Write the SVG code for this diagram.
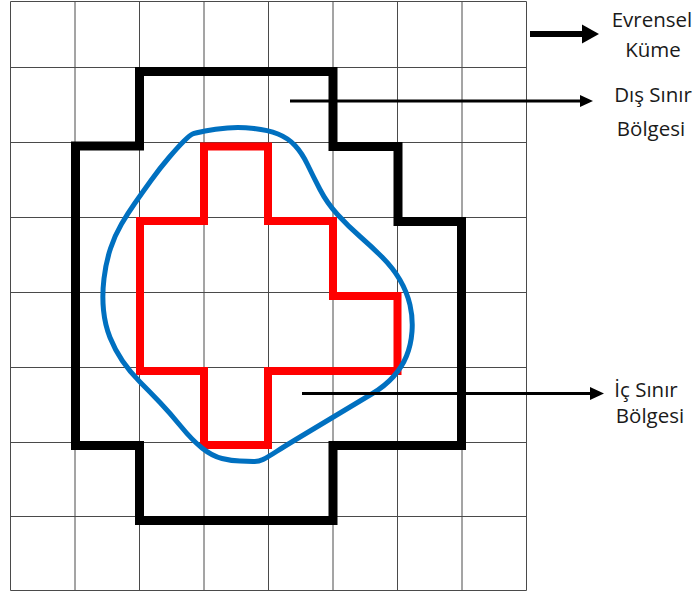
<svg xmlns="http://www.w3.org/2000/svg" width="697" height="597" viewBox="0 0 697 597">
<style>
.grid{stroke:#4a4a4a;stroke-width:1;fill:none}
.outer{fill:none;stroke:#000;stroke-width:9;stroke-linejoin:miter}
.inner{fill:none;stroke:#ff0000;stroke-width:8;stroke-linejoin:miter}
.blob{fill:none;stroke:#0070c0;stroke-width:5;stroke-linejoin:round}
.lbl{font-family:"Open Sans","Noto Sans",sans-serif;font-size:20.5px;fill:#1a1a1a;text-anchor:middle}
.ar{stroke:#000;fill:none}
.hd{fill:#000}
</style>
<rect width="697" height="597" fill="#fff"/>
<g id="grid" class="grid">
<path d="M10.5,1.5V590.5M75,1.5V590.5M139.5,1.5V590.5M204,1.5V590.5M268.5,1.5V590.5M333,1.5V590.5M397.5,1.5V590.5M462,1.5V590.5M526.5,1.5V590.5"/>
<path d="M10.5,1.5H526.5M10.5,67.5H526.5M10.5,142.5H526.5M10.5,217.5H526.5M10.5,292.5H526.5M10.5,367.5H526.5M10.5,442.5H526.5M10.5,516.5H526.5M10.5,590.5H526.5"/>
</g>
<g id="dis-sinir">
<path class="outer" d="M75.5,146 L139.5,146 L139.5,71.5 L333,71.5 L333,146.5 L398,146.5 L398,221.5 L461.5,221.5 L461.5,445.5 L333,445.5 L333,520.5 L139.5,520.5 L139.5,445.5 L75.5,445.5 Z"/>
</g>
<g id="ic-sinir">
<path class="inner" d="M204,146.5 L268,146.5 L268,221 L333,221 L333,296 L397.5,296 L397.5,371 L268,371 L268,445 L204,445 L204,371 L140,371 L140,221 L204,221 Z"/>
</g>
<g id="kume">
<path class="blob" d="M192.5,134 Q195,133 205,131 Q215,129 227.5,128 Q240,127 254,128.5 Q268,130 278,134 Q288,138 295,145.5 Q302,153 307.5,164.5 Q313,176 320,189.5 Q327,203 337.5,214.5 Q348,226 360,236.5 Q372,247 382.5,257.5 Q393,268 400,280 Q407,292 410,305 Q413,318 412,331.5 Q411,345 406.5,356 Q402,367 393.5,376.5 Q385,386 372.5,393.5 Q360,401 340,413 Q320,425 302.5,435.5 Q285,446 276.5,451.5 Q268,457 263,459.5 Q258,462 253,461.5 Q248,461 240,461 Q232,461 222,458.5 Q212,456 202,448 Q192,440 181,426.5 Q170,413 160,402.5 Q150,392 140,382 Q130,372 122.5,361 Q115,350 110,337.5 Q105,325 103.5,310 Q102,295 104,278.5 Q106,262 110.5,248.5 Q115,235 121.5,224 Q128,213 135,203 Q142,193 151,180.5 Q160,168 169,157.5 Q178,147 184,141 Q190,135 192.5,134 Z"/>
</g>
<g id="connectors">
<line class="ar" x1="530" y1="34" x2="583" y2="34" stroke-width="6"/>
<polygon class="hd" points="582,24.5 599,34 582,43.5"/>
<line class="ar" x1="290" y1="101" x2="581" y2="101" stroke-width="3"/>
<polygon class="hd" points="580,95 593,101 580,107"/>
<line class="ar" x1="302" y1="393.5" x2="591" y2="393.5" stroke-width="3"/>
<polygon class="hd" points="590,387 604,393.5 590,400"/>
</g>
<g id="label-evrensel">
<text class="lbl" x="652" y="27">Evrensel</text>
<text class="lbl" x="653" y="57">Küme</text>
</g>
<g id="label-dis">
<text class="lbl" x="653" y="102">Dış Sınır</text>
<text class="lbl" x="651" y="136">Bölgesi</text>
</g>
<g id="label-ic">
<text class="lbl" x="646" y="397">İç Sınır</text>
<text class="lbl" x="650" y="423">Bölgesi</text>
</g>
</svg>
